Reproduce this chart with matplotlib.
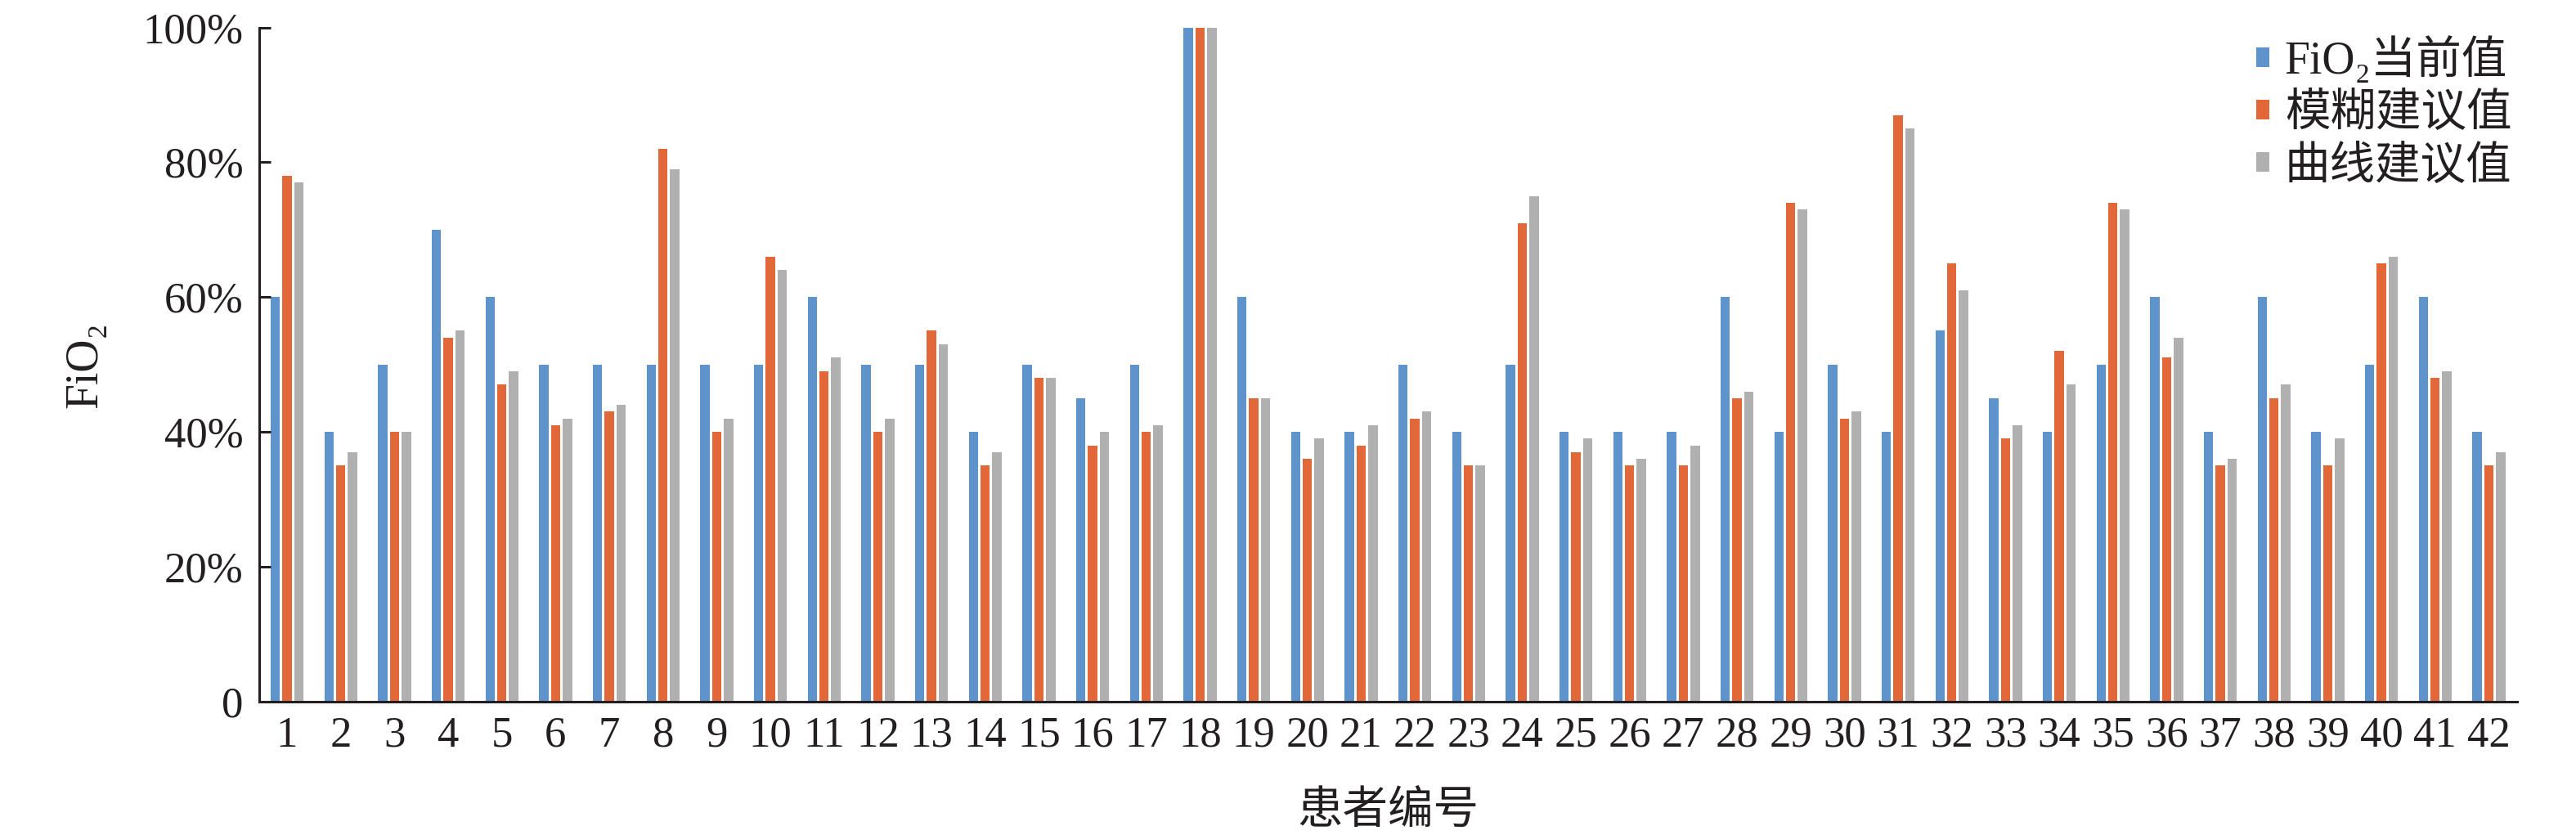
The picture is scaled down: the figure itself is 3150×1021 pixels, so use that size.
import numpy as np
import matplotlib
matplotlib.use("Agg")
from matplotlib import pyplot as plt
from matplotlib.ticker import FuncFormatter

plt.rcParams['font.family'] = ['Liberation Serif', 'Noto Sans CJK SC', 'DejaVu Serif']

patients = [str(i) for i in range(1, 43)]
fio2_current = [60, 40, 50, 70, 60, 50, 50, 50, 50, 50, 60, 50, 50, 40, 50, 45, 50, 100, 60, 40, 40,
                50, 40, 50, 40, 40, 40, 60, 40, 50, 40, 55, 45, 40, 50, 60, 40, 60, 40, 50, 60, 40]
fuzzy_advice = [78, 35, 40, 54, 47, 41, 43, 82, 40, 66, 49, 40, 55, 35, 48, 38, 40, 100, 45, 36, 38,
                42, 35, 71, 37, 35, 35, 45, 74, 42, 87, 65, 39, 52, 74, 51, 35, 45, 35, 65, 48, 35]
curve_advice = [77, 37, 40, 55, 49, 42, 44, 79, 42, 64, 51, 42, 53, 37, 48, 40, 41, 100, 45, 39, 41,
                43, 35, 75, 39, 36, 38, 46, 73, 43, 85, 61, 41, 47, 73, 54, 36, 47, 39, 66, 49, 37]
series_names = ['FiO\u2082当前值', '模糊建议值', '曲线建议值']
colors = ['#5F93CB', '#E2683A', '#B0B0B0']
ink = '#231F20'

fig = plt.figure(figsize=(31.5, 10.21), dpi=100)
ax = fig.add_axes([0.1006, 0.160, 0.8764, 0.807])

x = np.arange(len(patients))
w = 0.175
step = 0.22
for k, vals in enumerate([fio2_current, fuzzy_advice, curve_advice]):
    ax.bar(x + (k - 1) * step, vals, width=w, color=colors[k], label=series_names[k])

ax.set_xlim(-0.52, len(patients) - 0.48)
ax.set_ylim(0, 100)
ax.set_xticks(x)
ax.set_xticklabels(patients)
ax.set_yticks([0, 20, 40, 60, 80, 100])
ax.yaxis.set_major_formatter(FuncFormatter(lambda v, p: '0' if v == 0 else '%d%%' % v))
ax.tick_params(axis='x', length=0, labelsize=38, pad=13, colors=ink)
ax.tick_params(axis='y', direction='in', length=10, width=2.2, labelsize=38, pad=14, colors=ink)

for s in ['top', 'right']:
    ax.spines[s].set_visible(False)
for s in ['left', 'bottom']:
    ax.spines[s].set_linewidth(2.2)
    ax.spines[s].set_color(ink)

ax.set_ylabel('FiO\u2082', fontsize=40, color=ink, labelpad=32)
ax.set_xlabel('患者编号', fontsize=40, color=ink, labelpad=32)

ax.legend(loc='upper right', bbox_to_anchor=(0.975, 0.957), bbox_transform=fig.transFigure,
          frameon=False, fontsize=40, handlelength=0.29, handleheight=0.29,
          handletextpad=0.33, labelspacing=0.22, borderpad=0, borderaxespad=0,
          labelcolor=ink)

fig.savefig('out.png', dpi=100)
